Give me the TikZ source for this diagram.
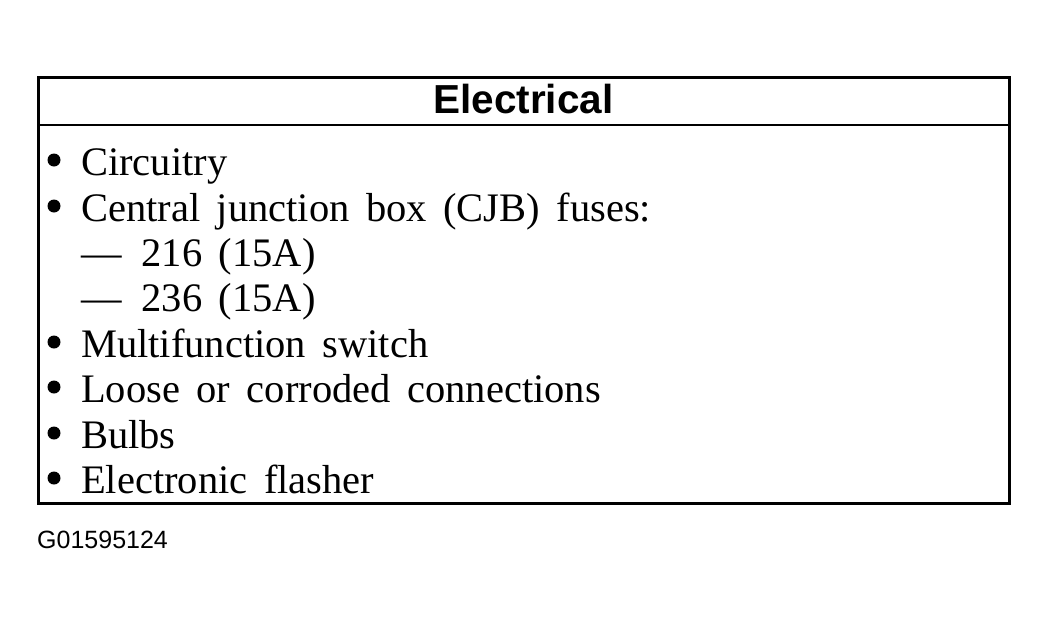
\documentclass[tikz,border=0pt]{standalone}
\usepackage{fontspec}
\usepackage{tikz}
\setmainfont{Liberation Serif}
\newfontfamily\headfont{Liberation Sans}
\newcommand{\bodyfnt}{\fontsize{40.5}{45}\selectfont\spaceskip=16.5pt}
\newcommand{\headfnt}{\headfont\bfseries\fontsize{40.5}{45}\selectfont}
\newcommand{\codefnt}{\headfont\fontsize{25}{28}\selectfont}
\tikzset{
  item/.style={anchor=base west, inner sep=0pt, font=\bodyfnt},
  dot/.style={circle, fill=black, inner sep=0pt, minimum size=13pt},
}

\begin{document}
\begin{tikzpicture}[x=1pt,y=-1pt]
                \useasboundingbox (0,0) rectangle (1049,624);
                \draw[line width=3pt] (38,77) rectangle (1009,503);
                \draw[line width=2.5pt] (38,125) -- (1009,125);
                \node[anchor=base, inner sep=0pt, font=\headfnt] (title) at (523.5,113) {Electrical};
                \node[dot] (d1) at (54,160) {};
                \node[item] (circ) at (81,175) {Circuitry};
                \node[dot] (d2) at (54,206) {};
                \node[item] (cjb) at (81,221) {Central junction box (CJB) fuses:};
                \node[item] (fuseA) at (81,266) {—\hspace{20pt}216 (15A)};
                \node[item] (fuseB) at (81,311) {—\hspace{20pt}236 (15A)};
                \node[dot] (d3) at (54,342) {};
                \node[item] (mfs) at (81,357) {Multifunction switch};
                \node[dot] (d4) at (54,387) {};
                \node[item] (loose) at (81,402) {Loose or corroded connections};
                \node[dot] (d5) at (54,433) {};
                \node[item] (bulbs) at (81,448) {Bulbs};
                \node[dot] (d6) at (54,478) {};
                \node[item] (flasher) at (81,493) {Electronic flasher};
                \node[anchor=base west, inner sep=0pt, font=\codefnt] (code) at (37,548) {G01595124};
            \end{tikzpicture}
\end{document}
